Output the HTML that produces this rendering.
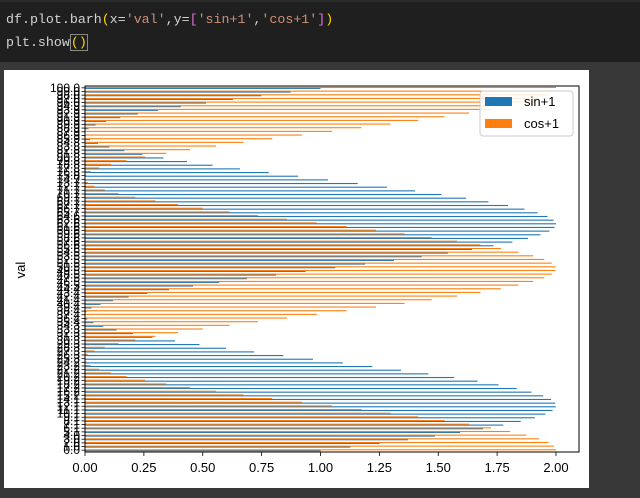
<!DOCTYPE html>
<html><head><meta charset="utf-8">
<style>
html,body{margin:0;padding:0;width:640px;height:498px;overflow:hidden;background:#383838;}
#code{position:absolute;left:0;top:0;width:640px;height:62px;background:#1f1f1f;border-top:2px solid #2b2b2b;box-sizing:border-box;}
.ln{position:absolute;left:6px;font-family:"Liberation Mono",monospace;font-size:13.3px;color:#d4d4d4;white-space:pre;}
.s{color:#ce9178}.y{color:#ffd700}.p{color:#da70d6}
#cur{border:1px solid #8a8a8a;}
#out{position:absolute;left:4px;top:70px;width:585px;height:418px;background:#fff;}
svg{position:absolute;left:0;top:0;}
</style></head><body>
<div id="code">
<div class="ln" style="top:10px">df.plot.barh<span class="y">(</span>x=<span class="s">'val'</span>,y=<span class="p">[</span><span class="s">'sin+1'</span>,<span class="s">'cos+1'</span><span class="p">]</span><span class="y">)</span></div>
<div class="ln" style="top:33px">plt.show<span class="y" id="cur">()</span></div>
</div>
<div id="out"></div>
<svg id="chart" width="640" height="498"></svg>
<script>
const sinVals=[1.000,1.127,1.251,1.372,1.486,1.593,1.690,1.776,1.850,1.910,1.955,1.985,1.999,1.997,1.979,1.945,1.896,1.833,1.756,1.667,1.567,1.458,1.342,1.220,1.095,0.968,0.842,0.718,0.599,0.486,0.382,0.287,0.204,0.134,0.078,0.036,0.010,0.000,0.006,0.028,0.066,0.119,0.185,0.265,0.357,0.459,0.570,0.688,0.811,0.937,1.063,1.189,1.312,1.430,1.541,1.643,1.735,1.815,1.881,1.934,1.972,1.994,2.000,1.990,1.964,1.922,1.866,1.796,1.713,1.618,1.514,1.401,1.282,1.158,1.032,0.905,0.780,0.658,0.542,0.433,0.333,0.244,0.167,0.104,0.055,0.021,0.003,0.001,0.015,0.045,0.090,0.150,0.224,0.310,0.407,0.514,0.628,0.749,0.873,1.000];
const cosVals=[2.000,1.992,1.968,1.928,1.874,1.805,1.724,1.631,1.527,1.415,1.297,1.174,1.048,0.921,0.795,0.673,0.556,0.446,0.345,0.255,0.176,0.111,0.060,0.025,0.005,0.001,0.013,0.040,0.084,0.142,0.214,0.299,0.395,0.500,0.614,0.734,0.858,0.984,1.111,1.236,1.357,1.472,1.580,1.679,1.766,1.841,1.903,1.950,1.982,1.998,1.998,1.982,1.950,1.903,1.841,1.766,1.679,1.580,1.472,1.357,1.236,1.111,0.984,0.858,0.734,0.614,0.500,0.395,0.299,0.214,0.142,0.084,0.040,0.013,0.001,0.005,0.025,0.060,0.111,0.176,0.255,0.345,0.446,0.556,0.673,0.795,0.921,1.048,1.174,1.297,1.415,1.527,1.631,1.724,1.805,1.874,1.928,1.968,1.992,2.000];
const categories=[];
for(let i=0;i<sinVals.length;i++){categories.push((i*100/99).toFixed(1));}
const xTicks=[0,0.25,0.5,0.75,1.0,1.25,1.5,1.75,2.0];
const xTickLabels=["0.00","0.25","0.50","0.75","1.00","1.25","1.50","1.75","2.00"];
const seriesNames=["sin+1","cos+1"];
const colors=["#1f77b4","#ff7f0e"];

const NS="http://www.w3.org/2000/svg";
const svg=document.getElementById('chart');
const L=85,R=579,T=86,B=452;
const xs=v=>L+v*(556-L)/2;
const N=categories.length;
const band=(B-T)/N;
const yc=i=>B-band*(i+0.5);
function mk(tag,attrs,parent){const e=document.createElementNS(NS,tag);for(const k in attrs)e.setAttribute(k,attrs[k]);(parent||svg).appendChild(e);return e;}

const bars=mk('g',{});


const bw=band*0.25;
[sinVals,cosVals].forEach((vals,s)=>{
  vals.forEach((v,i)=>{
    const y=yc(i)+(s===0?0:-bw);
    const r=mk('rect',{x:xs(0),y:y,width:Math.max(0,xs(v)-xs(0)),height:Math.max(bw,1.1),fill:colors[s]},bars);
    
    
  });
});
const frame=mk('rect',{x:L,y:T,width:R-L,height:B-T,fill:'none',stroke:'#000','stroke-width':1});



const yax=mk('g',{'font-family':'Liberation Sans, sans-serif','font-size':'12','text-anchor':'end'});


categories.forEach((c,i)=>{
  mk('line',{x1:L-3.5,x2:L,y1:yc(i),y2:yc(i),stroke:'#000','stroke-width':0.8},yax);
  const t=mk('text',{x:L-5,y:yc(i)+4},yax);
  t.textContent=c;
  
  
});
const xax=mk('g',{'font-family':'Liberation Sans, sans-serif','font-size':'13','text-anchor':'middle'});


xTicks.forEach((v,i)=>{
  mk('line',{x1:xs(v),x2:xs(v),y1:B,y2:B+4,stroke:'#000','stroke-width':0.8},xax);
  const t=mk('text',{x:xs(v),y:B+20},xax);
  t.textContent=xTickLabels[i];
  
  
});
const yl=mk('text',{x:0,y:0,transform:'translate(25,270) rotate(-90)','font-family':'Liberation Sans, sans-serif','font-size':'13','text-anchor':'middle'});
yl.textContent='val';



const lg=mk('g',{});


mk('rect',{x:480,y:91,width:93,height:45,rx:3,fill:'#fff','fill-opacity':0.85,stroke:'#ccc'},lg);
seriesNames.forEach((n,s)=>{
  const y=97+s*22;
  const sw=mk('rect',{x:485,y:y,width:27,height:9,fill:colors[s]},lg);
  
  
  const t=mk('text',{x:524,y:y+9,'font-family':'Liberation Sans, sans-serif','font-size':'13'},lg);
  t.textContent=n;
  
  
});
</script>
</body></html>
